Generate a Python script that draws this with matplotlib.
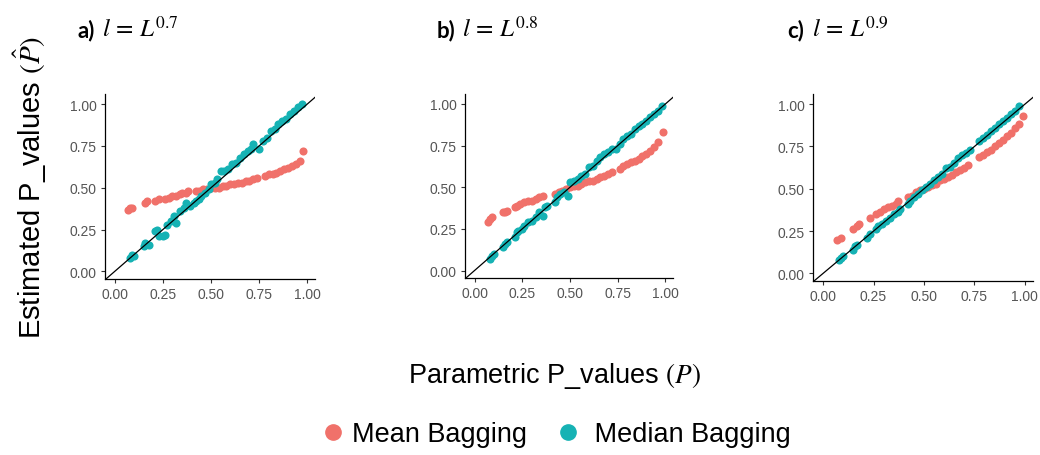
import matplotlib
matplotlib.use("Agg")
import matplotlib.pyplot as plt
from matplotlib.lines import Line2D

plt.rcParams["font.family"] = ["Liberation Sans", "DejaVu Sans"]
plt.rcParams["mathtext.fontset"] = "stix"

RED = "#F0716A"
TEAL = "#16B2B4"

# panel titles (exponent of L)
panel_tags = ["a)", "b)", "c)"]
panel_exps = ["0.7", "0.8", "0.9"]

# --- panel a: l = L^0.7 ---
a_med_x = [0.08, 0.09, 0.10, 0.15, 0.16, 0.18, 0.21, 0.22, 0.23, 0.25, 0.26, 0.27, 0.29, 0.31,
           0.32, 0.34, 0.36, 0.37, 0.39, 0.41, 0.42, 0.44, 0.45, 0.47, 0.49, 0.50, 0.52, 0.53,
           0.55, 0.57, 0.59, 0.61, 0.63, 0.65, 0.67, 0.69, 0.71, 0.72, 0.75, 0.77, 0.79, 0.81,
           0.83, 0.85, 0.87, 0.89, 0.91, 0.93, 0.95, 0.97]
a_med_y = [0.08, 0.10, 0.09, 0.15, 0.17, 0.16, 0.24, 0.25, 0.21, 0.21, 0.22, 0.28, 0.30, 0.33,
           0.29, 0.36, 0.38, 0.41, 0.39, 0.41, 0.42, 0.43, 0.45, 0.47, 0.49, 0.52, 0.53, 0.55,
           0.60, 0.60, 0.61, 0.64, 0.65, 0.68, 0.70, 0.72, 0.73, 0.76, 0.73, 0.78, 0.80, 0.84,
           0.85, 0.88, 0.90, 0.91, 0.94, 0.96, 0.98, 1.00]
a_mean_x = [0.07, 0.08, 0.09, 0.16, 0.17, 0.21, 0.23, 0.26, 0.28, 0.30, 0.32, 0.34, 0.35, 0.37,
            0.38, 0.42, 0.44, 0.46, 0.48, 0.50, 0.52, 0.54, 0.56, 0.58, 0.60, 0.62, 0.64, 0.66,
            0.68, 0.70, 0.72, 0.74, 0.78, 0.80, 0.82, 0.84, 0.86, 0.88, 0.90, 0.92, 0.94, 0.96,
            0.98]
a_mean_y = [0.37, 0.38, 0.38, 0.41, 0.42, 0.42, 0.43, 0.43, 0.44, 0.45, 0.45, 0.46, 0.47, 0.47,
            0.48, 0.48, 0.48, 0.49, 0.49, 0.50, 0.50, 0.50, 0.51, 0.51, 0.52, 0.52, 0.53, 0.53,
            0.54, 0.54, 0.55, 0.56, 0.57, 0.58, 0.58, 0.59, 0.60, 0.61, 0.62, 0.63, 0.64, 0.66,
            0.72]

# --- panel b: l = L^0.8 ---
b_med_x = [0.08, 0.09, 0.10, 0.15, 0.16, 0.17, 0.21, 0.22, 0.23, 0.25, 0.26, 0.28, 0.30, 0.32,
           0.34, 0.36, 0.37, 0.38, 0.42, 0.43, 0.45, 0.47, 0.49, 0.50, 0.52, 0.54, 0.56, 0.58,
           0.60, 0.62, 0.64, 0.66, 0.68, 0.70, 0.72, 0.74, 0.76, 0.78, 0.80, 0.82, 0.84, 0.86,
           0.88, 0.90, 0.92, 0.94, 0.96, 0.98]
b_med_y = [0.07, 0.09, 0.10, 0.14, 0.16, 0.17, 0.20, 0.23, 0.24, 0.25, 0.27, 0.29, 0.30, 0.32,
           0.35, 0.33, 0.38, 0.39, 0.41, 0.44, 0.46, 0.47, 0.45, 0.53, 0.54, 0.55, 0.57, 0.58,
           0.62, 0.63, 0.66, 0.68, 0.70, 0.71, 0.73, 0.73, 0.76, 0.79, 0.81, 0.82, 0.85, 0.87,
           0.88, 0.90, 0.92, 0.94, 0.96, 0.99]
b_mean_x = [0.07, 0.08, 0.09, 0.15, 0.16, 0.17, 0.21, 0.22, 0.24, 0.26, 0.28, 0.30, 0.32, 0.34,
            0.36, 0.42, 0.44, 0.46, 0.48, 0.50, 0.52, 0.54, 0.56, 0.58, 0.60, 0.62, 0.64, 0.66,
            0.68, 0.70, 0.72, 0.76, 0.78, 0.80, 0.82, 0.84, 0.86, 0.88, 0.90, 0.92, 0.94, 0.96,
            0.99]
b_mean_y = [0.29, 0.31, 0.32, 0.35, 0.35, 0.36, 0.38, 0.39, 0.40, 0.41, 0.42, 0.42, 0.43, 0.44,
            0.45, 0.46, 0.47, 0.48, 0.49, 0.50, 0.51, 0.51, 0.52, 0.53, 0.54, 0.54, 0.55, 0.56,
            0.57, 0.58, 0.59, 0.61, 0.63, 0.64, 0.65, 0.66, 0.67, 0.69, 0.70, 0.72, 0.74, 0.77,
            0.83]

# --- panel c: l = L^0.9 ---
c_med_x = [0.08, 0.09, 0.10, 0.15, 0.16, 0.17, 0.22, 0.23, 0.26, 0.27, 0.29, 0.31, 0.33, 0.35,
           0.37, 0.38, 0.42, 0.43, 0.45, 0.47, 0.49, 0.51, 0.53, 0.55, 0.57, 0.59, 0.61, 0.63,
           0.65, 0.67, 0.69, 0.71, 0.73, 0.77, 0.79, 0.81, 0.83, 0.85, 0.87, 0.89, 0.91, 0.93,
           0.95, 0.97]
c_med_y = [0.08, 0.09, 0.10, 0.14, 0.16, 0.17, 0.21, 0.23, 0.26, 0.28, 0.29, 0.31, 0.33, 0.35,
           0.36, 0.38, 0.41, 0.43, 0.45, 0.47, 0.49, 0.51, 0.53, 0.55, 0.57, 0.59, 0.62, 0.63,
           0.65, 0.68, 0.70, 0.71, 0.73, 0.78, 0.80, 0.82, 0.84, 0.86, 0.88, 0.90, 0.92, 0.94,
           0.96, 0.99]
c_mean_x = [0.07, 0.09, 0.15, 0.17, 0.18, 0.23, 0.26, 0.28, 0.30, 0.32, 0.34, 0.36, 0.37, 0.42,
            0.44, 0.46, 0.48, 0.50, 0.52, 0.54, 0.56, 0.58, 0.60, 0.62, 0.64, 0.66, 0.68, 0.70,
            0.72, 0.77, 0.79, 0.81, 0.83, 0.85, 0.87, 0.89, 0.91, 0.93, 0.95, 0.97, 0.99]
c_mean_y = [0.20, 0.21, 0.26, 0.28, 0.29, 0.33, 0.35, 0.36, 0.38, 0.39, 0.40, 0.41, 0.43, 0.45,
            0.46, 0.48, 0.49, 0.50, 0.51, 0.52, 0.53, 0.55, 0.56, 0.57, 0.58, 0.60, 0.61, 0.62,
            0.64, 0.69, 0.70, 0.72, 0.73, 0.75, 0.77, 0.79, 0.81, 0.83, 0.86, 0.88, 0.93]

ticks = [0.0, 0.25, 0.5, 0.75, 1.0]
tick_labels = ["0.00", "0.25", "0.50", "0.75", "1.00"]

panels = [
    (a_mean_x, a_mean_y, a_med_x, a_med_y),
    (b_mean_x, b_mean_y, b_med_x, b_med_y),
    (c_mean_x, c_mean_y, c_med_x, c_med_y),
]
# axes rectangles in figure pixels: left, right, top, bottom
boxes = [(105, 315, 95, 280), (465, 673, 95, 279), (813, 1033, 95, 282)]
tag_x = [77, 437, 787]

W, H = 1040, 456
fig = plt.figure(figsize=(W / 100, H / 100), dpi=100)

for (mx, my, dx, dy), (l, r, t, b), tx, tag, ex in zip(panels, boxes, tag_x, panel_tags, panel_exps):
    ax = fig.add_axes([l / W, 1 - b / H, (r - l) / W, (b - t) / H])
    ax.scatter(mx, my, s=34, color=RED, linewidths=0, zorder=2)
    ax.scatter(dx, dy, s=34, color=TEAL, linewidths=0, zorder=3)
    ax.axline((0, 0), slope=1, color="black", lw=0.9, zorder=4)
    ax.set_xlim(-0.05, 1.04)
    ax.set_ylim(-0.045, 1.06)
    ax.set_xticks(ticks, tick_labels)
    ax.set_yticks(ticks, tick_labels)
    ax.tick_params(length=3, width=0.8, color="#333333", labelcolor="#555555",
                   labelsize=10, pad=3)
    for side in ["top", "right"]:
        ax.spines[side].set_visible(False)
    for side in ["left", "bottom"]:
        ax.spines[side].set_linewidth(0.9)
    fig.text(tx / W, 1 - 37 / H, tag, fontsize=16, fontweight="bold",
             family=["Lato", "DejaVu Sans"], va="baseline")
    fig.text((tx + 25) / W, 1 - 37 / H, r"$l\,=\,L^{%s}$" % ex, fontsize=18, va="baseline")

fig.text(30 / W, 1 - 187 / H, r"Estimated P_values $(\hat{P})$", rotation=90,
         fontsize=21, ha="center", va="center")
fig.text(555 / W, 1 - 376 / H, r"Parametric P_values $(P)$", fontsize=19.5,
         ha="center", va="center")

handles = [
    Line2D([], [], marker="o", ls="", color=RED, markersize=11, label="Mean Bagging"),
    Line2D([], [], marker="o", ls="", color=TEAL, markersize=11, label=" Median Bagging"),
]
fig.legend(handles=handles, loc="center", bbox_to_anchor=(555 / W, 1 - 435 / H), ncol=2,
           frameon=False, fontsize=19.5, handletextpad=0.2, columnspacing=1.0,
           handlelength=1.0)

fig.savefig("out.png", dpi=100, facecolor="white")
